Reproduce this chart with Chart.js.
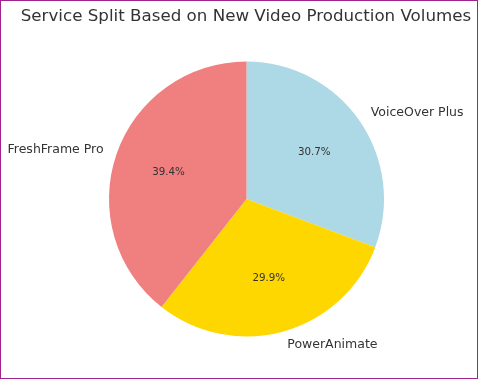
<!DOCTYPE html>
<html>
<head>
<meta charset="utf-8">
<script src="https://cdn.jsdelivr.net/npm/chart.js@4/dist/chart.umd.min.js"></script>
<style>
html,body{margin:0;padding:0;background:#fff;}
#wrap{width:478px;height:379px;position:relative;}
</style>
</head>
<body>
<div id="wrap"><canvas id="c" width="478" height="379"></canvas></div>
<script>
const titleText = "Service Split Based on New Video Production Volumes";
const categories = ["VoiceOver Plus", "PowerAnimate", "FreshFrame Pro"];
const shares = [30.7, 29.9, 39.4];
const colors = ["#ADD8E6", "#FFD700", "#F08080"];

const FONT = "'DejaVu Sans', sans-serif";
const TEXT = "#333333";

const decor = {
  id: "decor",
  beforeDraw(chart) {
    const ctx = chart.ctx;
    ctx.save();
    ctx.fillStyle = "#ffffff";
    ctx.fillRect(0, 0, chart.width, chart.height);
    ctx.restore();
  },
  afterDraw(chart) {
    const ctx = chart.ctx;
    const meta = chart.getDatasetMeta(0);
    const total = shares.reduce((a, b) => a + b, 0);
    ctx.save();
    ctx.fillStyle = TEXT;
    ctx.textBaseline = "middle";
    // title
    ctx.font = "16.7px " + FONT;
    ctx.textAlign = "center";
    ctx.fillText(titleText, 246, 16.5);
    meta.data.forEach((arc, i) => {
      const p = arc.getProps(["x", "y", "startAngle", "endAngle", "outerRadius"], true);
      const mid = (p.startAngle + p.endAngle) / 2;
      const cx = Math.cos(mid), cy = Math.sin(mid);
      // outer label
      const lx = p.x + cx * p.outerRadius * 1.1;
      const ly = p.y + cy * p.outerRadius * 1.1;
      ctx.font = "12.5px " + FONT;
      ctx.textAlign = cx >= 0 ? "left" : "right";
      ctx.fillText(categories[i], lx, ly);
      // percentage
      const px = p.x + cx * p.outerRadius * 0.6;
      const py = p.y + cy * p.outerRadius * 0.6;
      ctx.font = "10.3px " + FONT;
      ctx.textAlign = "center";
      ctx.fillText((shares[i] / total * 100).toFixed(1) + "%", px, py);
    });
    // frame
    ctx.strokeStyle = "#A0228F";
    ctx.lineWidth = 1;
    ctx.strokeRect(0.5, 0.5, chart.width - 1, chart.height - 1);
    ctx.restore();
  }
};

new Chart(document.getElementById("c"), {
  type: "pie",
  data: {
    labels: categories,
    datasets: [{
      data: shares,
      backgroundColor: colors,
      borderWidth: 0,
      hoverOffset: 0
    }]
  },
  options: {
    responsive: false,
    animation: false,
    rotation: 0,
    layout: { padding: { left: 109, right: 94, top: 61, bottom: 42 } },
    plugins: {
      legend: { display: false },
      title: { display: false },
      tooltip: { enabled: false }
    }
  },
  plugins: [decor]
});
</script>
</body>
</html>
